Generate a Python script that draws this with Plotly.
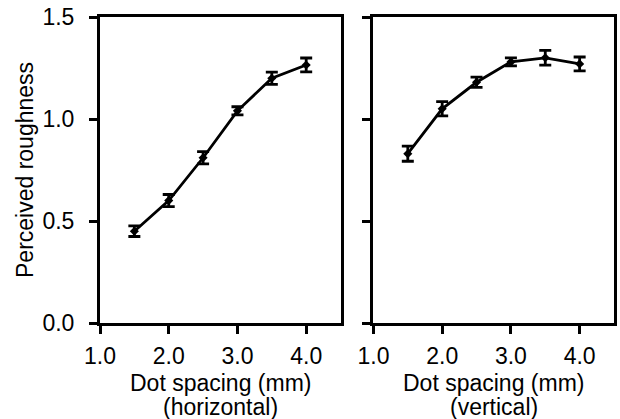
import plotly.graph_objects as go
from plotly.subplots import make_subplots

x_vals = [1.5, 2.0, 2.5, 3.0, 3.5, 4.0]
horiz_y = [0.45, 0.60, 0.81, 1.04, 1.20, 1.265]
horiz_err = [0.026, 0.03, 0.03, 0.02, 0.03, 0.034]
vert_y = [0.83, 1.05, 1.18, 1.28, 1.30, 1.27]
vert_err = [0.037, 0.035, 0.025, 0.02, 0.036, 0.034]
x_ticks = [1.0, 2.0, 3.0, 4.0]
x_ticklabels = ["1.0", "2.0", "3.0", "4.0"]
y_ticks = [0.0, 0.5, 1.0, 1.5]
y_ticklabels = ["0.0", "0.5", "1.0", "1.5"]
y_title = "Perceived roughness"
x_title_line1 = "Dot spacing (mm)"
x_title_line2 = ["(horizontal)", "(vertical)"]

FAMILY = "Liberation Sans, Arial, Helvetica, sans-serif"

fig = make_subplots(rows=1, cols=2)
for i, (yv, ev) in enumerate([(horiz_y, horiz_err), (vert_y, vert_err)]):
    fig.add_trace(go.Scatter(
        x=x_vals, y=yv, mode="lines+markers",
        line=dict(color="black", width=2.8),
        marker=dict(color="black", size=7, symbol="diamond"),
        error_y=dict(type="data", array=ev, color="black", thickness=2.8, width=6),
        showlegend=False), row=1, col=i + 1)

tick_font = dict(family=FAMILY, size=23, color="black")
title_font = dict(family=FAMILY, size=23, color="black")
axis_common = dict(showline=True, linecolor="black", linewidth=3, mirror=True,
                   ticks="outside", ticklen=8, tickwidth=2.6, tickcolor="black",
                   showgrid=False, zeroline=False, tickfont=tick_font)

fig.update_xaxes(range=[1.0, 4.5], tickvals=x_ticks, ticktext=x_ticklabels,
                 ticklabelstandoff=2, **axis_common)
fig.update_yaxes(range=[0.0, 1.5], tickvals=y_ticks, ticktext=y_ticklabels,
                 ticklabelstandoff=10, **axis_common)

left_dom = [0.0, 0.468]
right_dom = [0.532, 1.0]
fig.update_layout(
    width=620, height=419,
    margin=dict(l=100, r=3, t=17, b=96),
    plot_bgcolor="white", paper_bgcolor="white",
    font=tick_font,
    xaxis=dict(domain=left_dom),
    xaxis2=dict(domain=right_dom),
    yaxis2=dict(showticklabels=False),
)

for dom, line2 in zip([left_dom, right_dom], x_title_line2):
    cx = (dom[0] + dom[1]) / 2
    fig.add_annotation(text=x_title_line1, xref="paper", yref="paper", x=cx, y=0,
                       xanchor="center", yanchor="middle", yshift=-60,
                       showarrow=False, font=title_font)
    fig.add_annotation(text=line2, xref="paper", yref="paper", x=cx, y=0,
                       xanchor="center", yanchor="middle", yshift=-84,
                       showarrow=False, font=title_font)
fig.add_annotation(text=y_title, xref="paper", yref="paper", x=0, y=0.5,
                   xanchor="center", yanchor="middle", xshift=-75, textangle=-90,
                   showarrow=False, font=title_font)

fig.write_html("out.html")
